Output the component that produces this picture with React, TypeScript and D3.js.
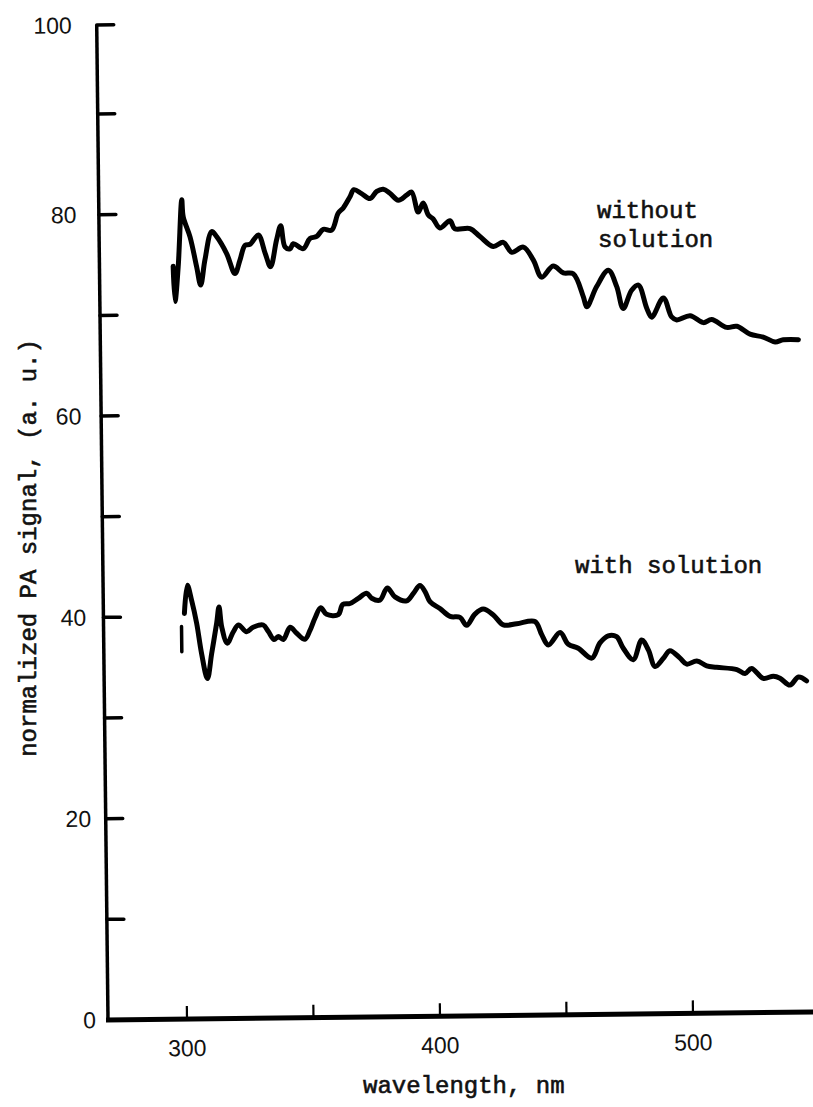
import React from "react";
import * as d3 from "d3";

// Photoacoustic spectra: wavelength (nm) vs normalized PA signal (a. u.)
const withoutSolution: [number, number][] = [
  [297.9, 74.8], [298.5, 71.3], [299.9, 74.75], [301.6, 81.4], [302.1, 79.7], [304.7, 77.7],
  [307.2, 74.7], [308.7, 72.9], [310.5, 75.4], [313.3, 78.2], [315.2, 77.7], [319.1, 76.0],
  [322.3, 74.0], [324.3, 75.3], [326.4, 76.8], [328.4, 76.9], [331.7, 77.8], [334.3, 76.0],
  [336.4, 74.65], [338.9, 77.3], [340.6, 78.7], [342.2, 76.6], [344.2, 76.4], [345.5, 76.9],
  [349.4, 76.4], [352.1, 77.4], [354.8, 77.6], [357.4, 78.3], [360.7, 78.2], [363.4, 79.9],
  [365.4, 80.4], [368.1, 81.5], [369.7, 82.2], [372.7, 81.8], [376.0, 81.3], [378.7, 82.0],
  [381.3, 82.2], [383.9, 81.8], [387.2, 81.1], [390.5, 81.6], [392.5, 81.9], [395.0, 79.9],
  [397.0, 80.8], [399.0, 79.6], [400.9, 79.2], [403.5, 78.3], [407.5, 79.0], [409.4, 78.2],
  [415.4, 78.2], [419.3, 77.4], [424.5, 76.4], [428.5, 76.8], [431.8, 75.8], [436.4, 76.3],
  [440.3, 75.0], [443.5, 73.3], [448.1, 74.4], [452.1, 73.7], [456.0, 73.6], [459.9, 71.3],
  [461.2, 70.3], [465.2, 72.3], [469.9, 73.9], [473.1, 72.3], [475.6, 70.1], [479.0, 71.9],
  [481.7, 72.4], [484.9, 70.1], [486.8, 69.2], [491.5, 71.1], [494.7, 69.2], [496.7, 68.9],
  [502.0, 69.3], [507.2, 68.6], [510.5, 68.9], [516.4, 68.1], [520.4, 68.2], [525.6, 67.4],
  [530.8, 67.1], [535.5, 66.6], [538.7, 66.8], [544.7, 66.8],
];

const withSolution: [number, number][] = [
  [300.8, 40.3], [302.1, 43.1], [303.7, 41.6], [305.6, 39.3], [307.4, 36.3], [309.6, 33.8],
  [311.4, 36.3], [313.5, 39.3], [314.5, 40.9], [315.5, 38.9], [317.6, 37.3], [320.0, 38.4],
  [322.1, 39.1], [325.3, 38.4], [327.9, 38.85], [331.9, 39.06], [333.9, 38.4], [336.1, 37.6],
  [337.8, 37.9], [339.8, 37.6], [342.5, 38.8], [345.1, 38.2], [348.3, 37.6], [350.4, 38.5],
  [352.4, 39.7], [354.7, 40.7], [357.0, 40.05], [361.6, 40.0], [363.4, 41.0], [366.3, 41.1],
  [369.6, 41.6], [372.9, 42.1], [374.9, 41.6], [378.1, 41.4], [381.1, 42.6], [384.1, 41.7],
  [388.7, 41.3], [391.3, 42.0], [394.0, 42.8], [396.0, 42.2], [397.9, 41.2], [401.8, 40.5],
  [405.8, 39.7], [409.7, 39.6], [412.3, 38.8], [415.6, 39.9], [418.9, 40.4], [422.9, 39.8],
  [426.8, 38.8], [432.1, 38.9], [439.3, 39.1], [441.9, 37.8], [444.5, 36.75], [449.2, 37.97],
  [452.4, 36.8], [456.3, 36.4], [461.6, 35.4], [464.9, 36.9], [468.2, 37.6], [471.5, 37.5],
  [474.1, 36.35], [478.0, 35.2], [481.4, 37.15], [484.0, 36.15], [486.6, 34.5], [489.9, 35.3],
  [492.5, 36.05], [496.5, 35.3], [499.1, 34.7], [503.1, 35.0], [507.0, 34.5], [510.9, 34.35],
  [518.9, 34.1], [522.1, 33.7], [524.7, 34.2], [529.3, 33.2], [533.3, 33.4], [535.9, 33.2],
  [539.8, 32.5], [543.2, 33.3], [546.4, 32.9],
];

// short detached stroke at the start of the lower trace
const withSolutionStart: [number, number][] = [[299.6, 39.0], [299.6, 36.5]];

const yTicks = [10, 20, 30, 40, 50, 60, 70, 80, 90, 100];
const yTickLabels = [0, 20, 40, 60, 80, 100];
const xTicks = [300, 350, 400, 450, 500];
const xTickLabels = [300, 400, 500];

const typeFont = "'Liberation Mono', 'DejaVu Sans Mono', monospace";
const digitFont = "'Liberation Sans', Arial, sans-serif";

export default function App() {
  const originX = 108;
  const originY = 1020;

  const x = d3.scaleLinear().domain([300, 500]).range([187, 693]);
  const y = d3.scaleLinear().domain([0, 90, 100]).range([originY, 114, 25]);

  const line = d3
    .line<[number, number]>()
    .x((d) => x(d[0]))
    .y((d) => y(d[1]))
    .curve(d3.curveCatmullRom.alpha(0.5));

  const plain = d3
    .line<[number, number]>()
    .x((d) => x(d[0]))
    .y((d) => y(d[1]));

  const xEnd = x(550);

  return (
    <svg
      width={813}
      height={1107}
      style={{ position: "absolute", left: 0, top: 0, background: "#fff" }}
    >
      <g transform={`rotate(-0.65, ${originX}, ${originY})`}>
        {/* axes */}
        <line x1={originX} y1={originY + 1} x2={originX} y2={y(100)} stroke="#000" strokeWidth={3.5} />
        <line x1={originX - 2} y1={originY} x2={xEnd} y2={originY} stroke="#000" strokeWidth={5} />

        {yTicks.map((t) => (
          <line key={`yt${t}`} x1={originX} x2={originX + 17} y1={y(t)} y2={y(t)} stroke="#000" strokeWidth={3.5} strokeLinecap="round" />
        ))}
        {yTickLabels.map((t) => (
          <text
            key={`yl${t}`}
            x={originX - (12 + 0.13 * t)}
            y={y(t) + 8}
            textAnchor="end"
            fontFamily={digitFont}
            fontSize={23}
            fill="#111"
          >
            {t}
          </text>
        ))}

        {xTicks.map((t) => (
          <line key={`xt${t}`} x1={x(t)} x2={x(t)} y1={originY} y2={originY - 13} stroke="#000" strokeWidth={2.2} />
        ))}
        {xTickLabels.map((t) => (
          <text
            key={`xl${t}`}
            x={x(t)}
            y={originY + 37}
            textAnchor="middle"
            fontFamily={digitFont}
            fontSize={23}
            fill="#111"
          >
            {t}
          </text>
        ))}

        {/* spectra */}
        <path d={line(withoutSolution) ?? ""} fill="none" stroke="#000" strokeWidth={5} strokeLinejoin="round" strokeLinecap="round" />
        <path d={line(withSolution) ?? ""} fill="none" stroke="#000" strokeWidth={5} strokeLinejoin="round" strokeLinecap="round" />
        <path d={plain(withSolutionStart) ?? ""} fill="none" stroke="#000" strokeWidth={3.5} strokeLinecap="round" />
      </g>

      {/* annotations */}
      <g fontFamily={typeFont} fontSize={24} fill="#111" stroke="#111" strokeWidth={0.6}>
        <text x={597} y={218}>without</text>
        <text x={598} y={247}>solution</text>
        <text x={575} y={573}>with solution</text>
        <text x={363} y={1093}>wavelength, nm</text>
        <text transform="translate(36, 548) rotate(-90)" textAnchor="middle">
          normalized PA signal, (a. u.)
        </text>
      </g>
    </svg>
  );
}
